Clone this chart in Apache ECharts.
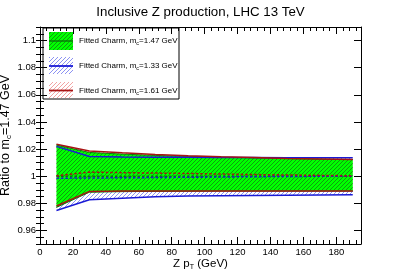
<!DOCTYPE html>
<html>
<head>
<meta charset="utf-8">
<script src="https://cdn.jsdelivr.net/npm/echarts@6/dist/echarts.min.js"></script>
<style>
html,body{margin:0;padding:0;background:#fff;}
#c{width:401px;height:272px;}
</style>
</head>
<body>
<div id="c"></div>
<script>
// ---- data ----
const xValues = [10, 30, 50, 70, 90, 110, 130, 150, 170, 190];

// m_c = 1.47 GeV (reference, green band)
const nomUpper   = [1.0230, 1.0175, 1.0163, 1.0153, 1.0146, 1.0140, 1.0135, 1.0130, 1.0126, 1.0123];
const nomCentral = [1.0000, 1.0000, 1.0000, 1.0000, 1.0000, 1.0000, 1.0000, 1.0000, 1.0000, 1.0000];
const nomLower   = [0.9770, 0.9882, 0.9886, 0.9888, 0.9889, 0.9890, 0.9890, 0.9890, 0.9890, 0.9890];

// m_c = 1.33 GeV (blue)
const lowUpper   = [1.0220, 1.0145, 1.0142, 1.0140, 1.0139, 1.0138, 1.0137, 1.0136, 1.0136, 1.0136];
const lowCentral = [0.9985, 0.9987, 0.9988, 0.9990, 0.9992, 0.9994, 0.9996, 0.9998, 0.9999, 1.0000];
const lowLower   = [0.9747, 0.9826, 0.9838, 0.9848, 0.9853, 0.9856, 0.9858, 0.9860, 0.9862, 0.9863];

// m_c = 1.61 GeV (red)
const highUpper   = [1.0235, 1.0185, 1.0172, 1.0160, 1.0151, 1.0143, 1.0137, 1.0131, 1.0127, 1.0123];
const highCentral = [1.0003, 1.0030, 1.0026, 1.0023, 1.0020, 1.0016, 1.0012, 1.0009, 1.0006, 1.0003];
const highLower   = [0.9780, 0.9888, 0.9890, 0.9891, 0.9891, 0.9891, 0.9891, 0.9891, 0.9891, 0.9891];

const yMajorTicks = [0.96, 0.98, 1, 1.02, 1.04, 1.06, 1.08, 1.1];
const legendLabels = ['1.47', '1.33', '1.61'];

// ---- styles ----
const FONT = 'Liberation Sans, Arial, Helvetica, sans-serif';
const GREEN = '#00ff00', GREEN_DARK = '#0a7a0a';
const BLUE = '#1a1ad6', BLUE_HATCH = '#7f86f0';
const RED = '#a81414', RED_HATCH = '#f09a9a';

function hatch(bg, fg, size, lw) {
  const c = document.createElement('canvas');
  c.width = size; c.height = size;
  const ctx = c.getContext('2d');
  if (bg) { ctx.fillStyle = bg; ctx.fillRect(0, 0, size, size); }
  ctx.strokeStyle = fg; ctx.lineWidth = lw;
  ctx.beginPath();
  ctx.moveTo(-1, size + 1); ctx.lineTo(size + 1, -1);
  ctx.moveTo(-size / 2 - 1, size / 2 + 1); ctx.lineTo(size / 2 + 1, -size / 2 - 1);
  ctx.moveTo(size / 2 - 1, size * 1.5 + 1); ctx.lineTo(size * 1.5 + 1, size / 2 - 1);
  ctx.stroke();
  return c;
}
const greenFill = { image: hatch(GREEN, 'rgba(20,110,20,0.75)', 4, 0.9), repeat: 'repeat' };
const blueFill  = { image: hatch(null, BLUE_HATCH, 4, 0.9), repeat: 'repeat' };
const redFill   = { image: hatch(null, RED_HATCH, 4, 0.9), repeat: 'repeat' };

function band(name, lower, upper, fill, z) {
  return {
    type: 'custom', name: name, z: z, silent: true,
    data: xValues.map((x, i) => [x, lower[i], upper[i]]),
    encode: { x: 0, y: [1, 2] },
    renderItem: function (params, api) {
      if (params.dataIndex !== 0) return null;
      const pts = [];
      for (let i = 0; i < xValues.length; i++) pts.push(api.coord([xValues[i], upper[i]]));
      for (let i = xValues.length - 1; i >= 0; i--) pts.push(api.coord([xValues[i], lower[i]]));
      return { type: 'polygon', shape: { points: pts }, style: { fill: fill, stroke: null } };
    }
  };
}
function line(values, color, width, dashed, z) {
  return {
    type: 'line', z: z, silent: true, showSymbol: false, symbol: 'none',
    data: xValues.map((x, i) => [x, values[i]]),
    lineStyle: { color: color, width: width, type: dashed ? [2.5, 2] : 'solid' },
    animation: false
  };
}

const chart = echarts.init(document.getElementById('c'), null, { renderer: 'canvas' });

const tickCommon = { show: true, inside: true, lineStyle: { color: '#000', width: 1 } };
const lineCommon = { show: true, onZero: false, lineStyle: { color: '#000', width: 1 } };
const minorVals = [];
for (let v = 950; v <= 1110; v += 5) minorVals.push(v / 1000);

const fmt = v => String(+(+v).toFixed(3));
const legendRich = {
  a: { fontFamily: FONT, fontSize: 8, fill: '#000' },
  s: { fontFamily: FONT, fontSize: 5.5, fill: '#000', padding: [5, 0, 0, 0] }
};

const option = {
  animation: false,
  backgroundColor: '#fff',
  title: {
    text: 'Inclusive Z production, LHC 13 TeV',
    left: 'center', top: 1,
    textStyle: { fontFamily: FONT, fontSize: 13.3, fontWeight: 'normal', color: '#000' }
  },
  grid: { left: 40, right: 40, top: 27, bottom: 28, containLabel: false, outerBoundsMode: 'none' },
  xAxis: [
    {
      type: 'value', min: 0, max: 195, interval: 20,
      axisLine: lineCommon,
      axisTick: Object.assign({}, tickCommon, { length: 7 }),
      minorTick: { show: true, splitNumber: 5, length: 4, lineStyle: { color: '#000' } },
      splitLine: { show: false },
      axisLabel: { fontFamily: FONT, fontSize: 9.5, color: '#000', margin: 3, showMaxLabel: false },
      name: '{a|Z p}{s|T}{a| (GeV)}', nameLocation: 'middle', nameGap: 13, nameMoveOverlap: false,
      nameTextStyle: { rich: {
        a: { fontFamily: FONT, fontSize: 11.5, color: '#000' },
        s: { fontFamily: FONT, fontSize: 7, color: '#000', padding: [7, 0, 0, 0] }
      } }
    },
    {
      type: 'value', min: 0, max: 195, interval: 20, position: 'top',
      axisLine: lineCommon,
      axisTick: Object.assign({}, tickCommon, { length: 7 }),
      minorTick: { show: true, splitNumber: 5, length: 4, lineStyle: { color: '#000' } },
      splitLine: { show: false }, axisLabel: { show: false }
    }
  ],
  yAxis: [
    {
      type: 'value', min: 0.95, max: 1.11, position: 'left',
      axisLine: lineCommon,
      axisTick: Object.assign({}, tickCommon, { length: 7, customValues: yMajorTicks }),
      splitLine: { show: false },
      axisLabel: { customValues: yMajorTicks, formatter: fmt, fontFamily: FONT, fontSize: 9.5, color: '#000', margin: 4 },
      name: '{a|Ratio to m}{s|c}{a|=1.47 GeV}', nameLocation: 'middle', nameGap: 27, nameRotate: 90, nameMoveOverlap: false,
      nameTextStyle: { rich: {
        a: { fontFamily: FONT, fontSize: 12.5, color: '#000' },
        s: { fontFamily: FONT, fontSize: 8, color: '#000', padding: [7, 0, 0, 0] }
      } }
    },
    {
      type: 'value', min: 0.95, max: 1.11, position: 'left',
      axisLine: { show: false },
      axisTick: Object.assign({}, tickCommon, { length: 4, customValues: minorVals }),
      splitLine: { show: false }, axisLabel: { show: false }
    },
    {
      type: 'value', min: 0.95, max: 1.11, position: 'right',
      axisLine: lineCommon,
      axisTick: Object.assign({}, tickCommon, { length: 7, customValues: yMajorTicks }),
      splitLine: { show: false }, axisLabel: { show: false }
    },
    {
      type: 'value', min: 0.95, max: 1.11, position: 'right',
      axisLine: { show: false },
      axisTick: Object.assign({}, tickCommon, { length: 4, customValues: minorVals }),
      splitLine: { show: false }, axisLabel: { show: false }
    }
  ],
  series: [
    band('Fitted Charm, mc=1.33 GeV', lowLower, lowUpper, blueFill, 1),
    band('Fitted Charm, mc=1.61 GeV', highLower, highUpper, redFill, 2),
    band('Fitted Charm, mc=1.47 GeV', nomLower, nomUpper, greenFill, 3),
    line(nomUpper, GREEN_DARK, 1, false, 4),
    line(nomLower, GREEN_DARK, 1, false, 4),
    line(nomCentral, GREEN_DARK, 1.5, true, 4),
    line(lowUpper, BLUE, 1.5, false, 5),
    line(lowLower, BLUE, 1.5, false, 5),
    line(lowCentral, BLUE, 1.5, true, 5),
    line(highUpper, RED, 1.5, false, 6),
    line(highLower, RED, 1.5, false, 6),
    line(highCentral, RED, 1.5, true, 6)
  ],
  graphic: [
    {
      type: 'group', x: 43, y: 28, z: 100,
      children: [
        { type: 'rect', shape: { x: 0, y: 0, width: 136, height: 71 },
          style: { fill: '#fff', stroke: '#000', lineWidth: 1 } },
        { type: 'rect', shape: { x: 6, y: 4, width: 24, height: 18 }, style: { fill: greenFill } },
        { type: 'line', shape: { x1: 6, y1: 13, x2: 30, y2: 13 }, style: { stroke: GREEN_DARK, lineWidth: 1.5 } },
        { type: 'text', x: 36, y: 13, style: {
            text: '{a|Fitted Charm, m}{s|c}{a|=' + legendLabels[0] + ' GeV}', verticalAlign: 'middle', rich: legendRich } },
        { type: 'rect', shape: { x: 6, y: 29, width: 24, height: 17 }, style: { fill: blueFill } },
        { type: 'line', shape: { x1: 6, y1: 38, x2: 30, y2: 38 }, style: { stroke: BLUE, lineWidth: 1.8 } },
        { type: 'text', x: 36, y: 38, style: {
            text: '{a|Fitted Charm, m}{s|c}{a|=' + legendLabels[1] + ' GeV}', verticalAlign: 'middle', rich: legendRich } },
        { type: 'rect', shape: { x: 6, y: 54, width: 24, height: 16 }, style: { fill: redFill } },
        { type: 'line', shape: { x1: 6, y1: 62.5, x2: 30, y2: 62.5 }, style: { stroke: RED, lineWidth: 1.8 } },
        { type: 'text', x: 36, y: 62.5, style: {
            text: '{a|Fitted Charm, m}{s|c}{a|=' + legendLabels[2] + ' GeV}', verticalAlign: 'middle', rich: legendRich } }
      ]
    }
  ]
};
chart.setOption(option);
</script>
</body>
</html>
